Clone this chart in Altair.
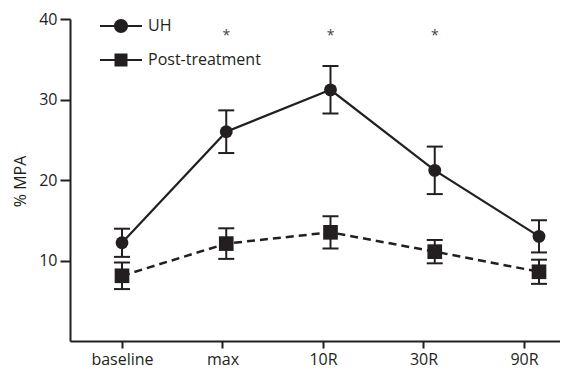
import altair as alt
import pandas as pd

categories = ["baseline", "max", "10R", "30R", "90R"]
series_names = ["UH", "Post-treatment"]
uh_mean = [12.2, 26.0, 31.2, 21.2, 13.0]
uh_err = [1.75, 2.65, 2.95, 2.95, 2.0]
post_mean = [8.1, 12.1, 13.5, 11.1, 8.6]
post_err = [1.65, 1.9, 2.0, 1.45, 1.5]
significance = ["", "*", "*", "*", ""]
y_ticks = [10, 20, 30, 40]

C = "#231f20"
F = "Open Sans"

rows = []
for name, means, errs in [("UH", uh_mean, uh_err), ("Post-treatment", post_mean, post_err)]:
    for cat, m, e in zip(categories, means, errs):
        rows.append({"series": name, "category": cat, "mean": m, "lo": m - e, "hi": m + e})
df = pd.DataFrame(rows)
sig_df = pd.DataFrame({"category": categories, "sig": significance})
cat_df = pd.DataFrame({"category": categories})
leg_df = pd.DataFrame({"series": series_names})

scale_axis = alt.Scale(type="point", domain=categories, padding=0.4378, align=0.5909)
scale_pts = alt.Scale(type="point", domain=categories, padding=0.3501, align=0.7123)
y_scale = alt.Scale(domain=[0, 40], nice=False, zero=True)

x_enc = alt.X("category:N", scale=scale_pts, axis=None)
y_axis = alt.Axis(
    title="% MPA", values=y_ticks, grid=False, tickSize=10, tickWidth=2, tickColor=C,
    domainColor=C, domainWidth=2, labelFont=F, labelFontSize=16, labelColor=C,
    labelPadding=3, titleFont=F, titleFontSize=16, titleFontWeight="normal",
    titleColor=C, titleX=-44.5, titleY=162, titleBaseline="alphabetic", titleAngle=270,
)
y_mean = alt.Y("mean:Q", scale=y_scale, axis=y_axis)

base = alt.Chart(df)
uh = base.transform_filter(alt.datum.series == "UH")
post = base.transform_filter(alt.datum.series == "Post-treatment")

uh_line = uh.mark_line(color=C, strokeWidth=2.2).encode(x=x_enc, y=y_mean)
post_line = post.mark_line(color=C, strokeWidth=2.5, strokeDash=[8, 5]).encode(x=x_enc, y=y_mean)

err_rule = base.mark_rule(color=C, strokeWidth=2).encode(
    x=x_enc, y=alt.Y("lo:Q", scale=y_scale, axis=y_axis), y2="hi:Q")
cap_lo = base.mark_tick(orient="horizontal", size=16, thickness=2, color=C, opacity=1).encode(
    x=x_enc, y=alt.Y("lo:Q", scale=y_scale, axis=y_axis))
cap_hi = base.mark_tick(orient="horizontal", size=16, thickness=2, color=C, opacity=1).encode(
    x=x_enc, y=alt.Y("hi:Q", scale=y_scale, axis=y_axis))

uh_pts = uh.mark_point(shape="circle", filled=True, size=165, color=C, opacity=1, strokeWidth=0).encode(
    x=x_enc, y=y_mean)
post_pts = post.mark_point(shape="square", filled=True, size=215, color=C, opacity=1, strokeWidth=0).encode(
    x=x_enc, y=y_mean)

stars = alt.Chart(sig_df).transform_filter(alt.datum.sig != "").mark_text(
    fontSize=14, color="#444444", font=F, baseline="middle").encode(
    x=x_enc, y=alt.datum(37.9), text="sig:N")

PATH_CIRCLE = "M-1.5,-0.07H1.5V0.07H-1.5Z M-0.5,0A0.5,0.5,0,1,1,0.5,0A0.5,0.5,0,1,1,-0.5,0Z"
PATH_SQUARE = "M-1.5,-0.07H1.5V0.07H-1.5Z M-0.464,-0.464H0.464V0.464H-0.464Z"

legend_layer = alt.Chart(leg_df).transform_filter("false").mark_point(
    filled=True, color=C, opacity=1, size=784, strokeWidth=0).encode(
    shape=alt.Shape("series:N",
                    scale=alt.Scale(domain=series_names, range=[PATH_CIRCLE, PATH_SQUARE]),
                    legend=alt.Legend(title=None, orient="none", legendX=37, legendY=-7,
                                      symbolSize=784, symbolFillColor=C, symbolStrokeWidth=0,
                                      symbolOpacity=1, labelFont=F, labelFontSize=16,
                                      labelColor=C, labelOffset=13, rowPadding=12, padding=0)))

axis_layer = alt.Chart(cat_df).mark_tick(opacity=0).encode(
    x=alt.X("category:N", scale=scale_axis,
            axis=alt.Axis(title=None, grid=False, labelAngle=0, tickSize=7, tickWidth=2,
                          tickColor=C, domainColor=C, domainWidth=2, labelFont=F,
                          labelFontSize=16, labelColor=C, labelPadding=3)))

inner = alt.layer(uh_line, post_line, err_rule, cap_lo, cap_hi, uh_pts, post_pts, stars, legend_layer)

chart = alt.layer(axis_layer, inner).resolve_scale(x="independent").properties(
    width=490, height=322, autosize="none",
    padding={"left": 62, "top": 11, "right": 0, "bottom": 28},
).configure_view(stroke=None)

chart.save("out.html", embed_options={"renderer": "svg", "actions": False})
